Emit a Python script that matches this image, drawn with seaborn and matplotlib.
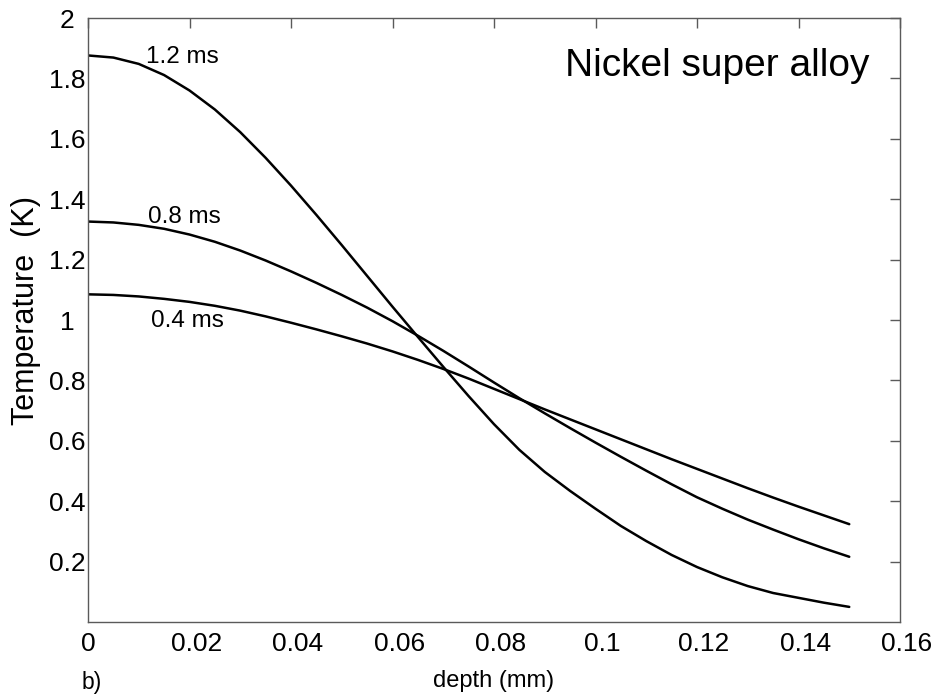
import matplotlib
matplotlib.use("Agg")
import matplotlib.pyplot as plt
import matplotlib.transforms as mtransforms
import pandas as pd
import seaborn as sns

# Depth below the surface (mm)
depth_mm = [0.000, 0.005, 0.010, 0.015, 0.020, 0.025, 0.030, 0.035, 0.040, 0.045,
            0.050, 0.055, 0.060, 0.065, 0.070, 0.075, 0.080, 0.085, 0.090, 0.095,
            0.100, 0.105, 0.110, 0.115, 0.120, 0.125, 0.130, 0.135, 0.140, 0.145,
            0.150]

# Temperature rise (K) at three times after the pulse
temp_04ms = [1.085, 1.083, 1.078, 1.070, 1.060, 1.047, 1.031, 1.012, 0.991, 0.969,
             0.946, 0.922, 0.896, 0.868, 0.838, 0.806, 0.772, 0.738, 0.704, 0.671,
             0.638, 0.605, 0.572, 0.539, 0.507, 0.475, 0.443, 0.412, 0.382, 0.353,
             0.324]
temp_08ms = [1.326, 1.323, 1.315, 1.302, 1.283, 1.259, 1.230, 1.197, 1.161, 1.123,
             1.083, 1.041, 0.996, 0.948, 0.898, 0.846, 0.793, 0.741, 0.691, 0.642,
             0.594, 0.547, 0.501, 0.456, 0.413, 0.375, 0.339, 0.306, 0.274, 0.244,
             0.216]
temp_12ms = [1.876, 1.869, 1.848, 1.811, 1.760, 1.697, 1.622, 1.537, 1.445, 1.348,
             1.248, 1.146, 1.044, 0.944, 0.845, 0.748, 0.655, 0.570, 0.497, 0.434,
             0.375, 0.318, 0.268, 0.222, 0.182, 0.148, 0.119, 0.096, 0.080, 0.064,
             0.050]

time_labels = ["0.4 ms", "0.8 ms", "1.2 ms"]

x_ticks = [0, 0.02, 0.04, 0.06, 0.08, 0.10, 0.12, 0.14, 0.16]
x_tick_labels = ["0", "0.02", "0.04", "0.06", "0.08", "0.1", "0.12", "0.14", "0.16"]
y_ticks = [0.2, 0.4, 0.6, 0.8, 1.0, 1.2, 1.4, 1.6, 1.8, 2.0]
y_tick_labels = ["0.2", "0.4", "0.6", "0.8", "1", "1.2", "1.4", "1.6", "1.8", "2"]

df = pd.DataFrame({
    "depth": depth_mm * 3,
    "temperature": temp_04ms + temp_08ms + temp_12ms,
    "time": [time_labels[0]] * len(depth_mm)
            + [time_labels[1]] * len(depth_mm)
            + [time_labels[2]] * len(depth_mm),
})

sns.set_theme(style="white")
plt.rcParams["font.family"] = ["Liberation Sans", "DejaVu Sans"]
plt.rcParams["text.color"] = "black"
plt.rcParams["axes.labelcolor"] = "black"

fig = plt.figure(figsize=(9.44, 6.98), dpi=100)
ax = fig.add_axes([88 / 944, 1 - 622 / 698, (900 - 88) / 944, (622 - 18) / 698])

sns.lineplot(data=df, x="depth", y="temperature", hue="time",
             palette=["black"] * 3, linewidth=1.8, legend=False, ax=ax,
             estimator=None, sort=False)

ax.set_xlim(0, 0.16)
ax.set_ylim(0, 2)

spine_color = "#5a5a5a"
for s in ax.spines.values():
    s.set_visible(True)
    s.set_color(spine_color)
    s.set_linewidth(1.0)

ax.set_xticks(x_ticks)
ax.set_xticklabels(x_tick_labels)
ax.set_yticks(y_ticks)
ax.set_yticklabels(y_tick_labels)
ax.tick_params(axis="both", which="major", direction="in", length=7, width=1.0,
               color=spine_color, labelcolor="black", labelsize=19,
               top=True, right=True)
ax.tick_params(axis="x", pad=7)
ax.tick_params(axis="y", pad=15)
for lbl in ax.get_yticklabels():
    lbl.set_horizontalalignment("center")

# nudge the x tick labels slightly to the right
shift = mtransforms.ScaledTranslation(7 / 100, 0, fig.dpi_scale_trans)
for lbl in ax.get_xticklabels()[1:]:
    lbl.set_transform(lbl.get_transform() + shift)

ax.set_xlabel("depth (mm)", fontsize=17, labelpad=10)
ax.set_ylabel("Temperature  (K)", fontsize=22, labelpad=6)
ax.yaxis.label.set_y(0.515)

# curve labels
ax.text(0.0114, 1.852, "1.2 ms", fontsize=17.5, ha="left", va="baseline")
ax.text(0.0118, 1.320, "0.8 ms", fontsize=17.5, ha="left", va="baseline")
ax.text(0.0124, 0.976, "0.4 ms", fontsize=17.5, ha="left", va="baseline")

ax.text(0.154, 1.809, "Nickel super alloy", fontsize=28, ha="right", va="baseline")

fig.text(82 / 944, 1 - 689 / 698, "b)", fontsize=16.5, ha="left", va="baseline")

fig.savefig("out.png", dpi=100)
